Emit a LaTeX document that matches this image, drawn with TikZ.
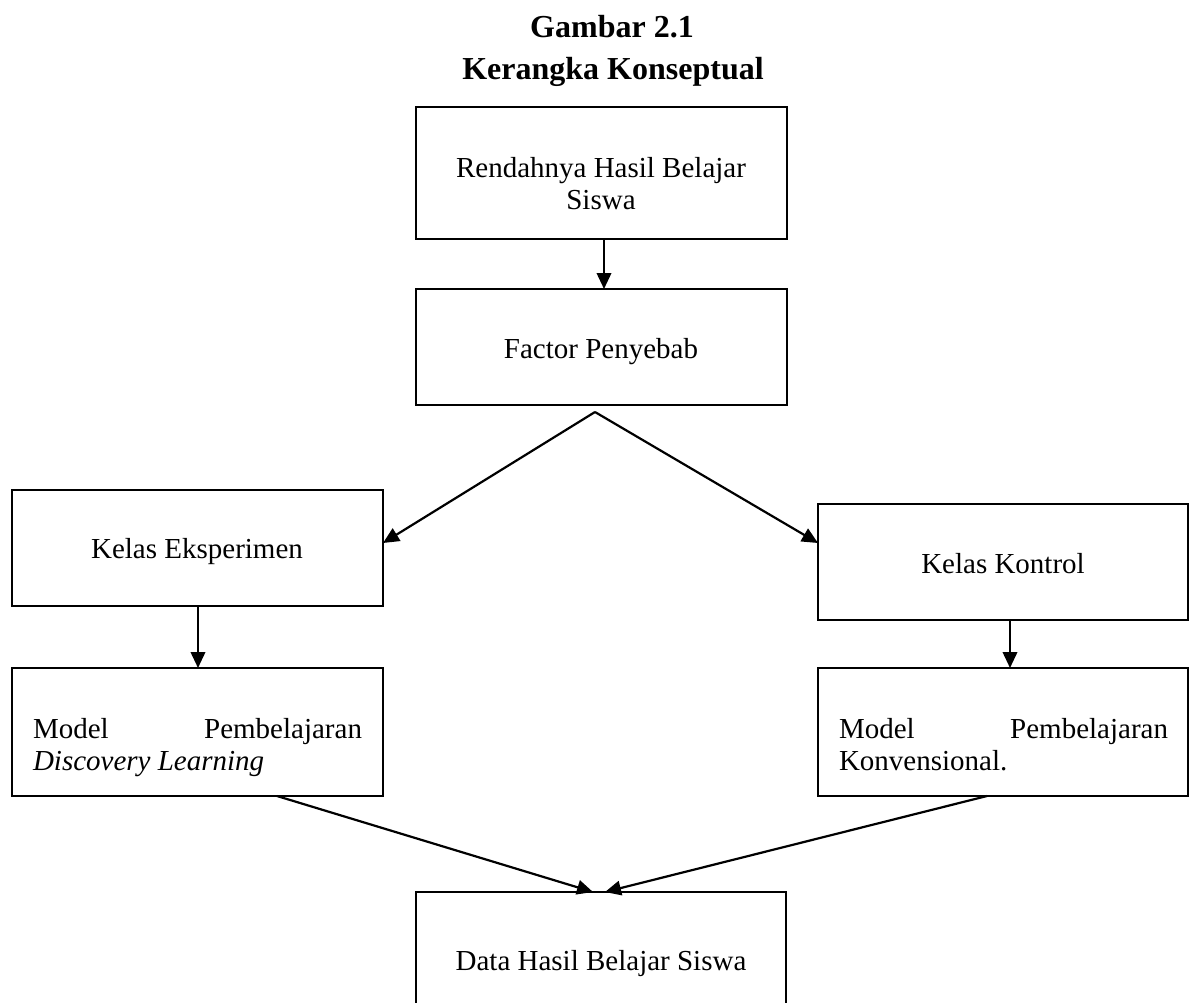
\documentclass[tikz,border=0pt]{standalone}
\usepackage{fontspec}
\setmainfont{Liberation Serif}
\usetikzlibrary{arrows.meta}
\tikzset{
  box/.style={draw, line width=2pt, rectangle, inner sep=0pt, outer sep=0pt},
  arr/.style={line width=2.2pt, -{Triangle[length=16pt,width=14.5pt]}},
  txt/.style={inner sep=0pt, outer sep=0pt, anchor=base, font=\fontsize{29}{33}\selectfont},
  ttl/.style={inner sep=0pt, outer sep=0pt, anchor=base, font=\fontsize{32}{38}\selectfont\bfseries}
}
\begin{document}
\begin{tikzpicture}[x=1pt, y=-1pt]
\useasboundingbox (0,0) rectangle (1189,1002);
\clip (0,0) rectangle (1189,1002);
% title
\node[ttl] (t1) at (612,37) {Gambar 2.1};
\node[ttl] (t2) at (613,79) {Kerangka Konseptual};
% boxes
\node[box, minimum width=371pt, minimum height=132pt] (b1) at (601.5,173) {};
\node[box, minimum width=371pt, minimum height=116pt] (b2) at (601.5,347) {};
\node[box, minimum width=371pt, minimum height=116pt] (b3) at (197.5,548) {};
\node[box, minimum width=370pt, minimum height=116pt] (b4) at (1003,562) {};
\node[box, minimum width=371pt, minimum height=128pt] (b5) at (197.5,732) {};
\node[box, minimum width=370pt, minimum height=128pt] (b6) at (1003,732) {};
\node[box, minimum width=370pt, minimum height=140pt] (b7) at (601,962) {};
% texts
\node[txt] (l1a) at (601,177) {Rendahnya Hasil Belajar};
\node[txt] (l1b) at (601,209) {Siswa};
\node[txt] (l2) at (601,358) {Factor Penyebab};
\node[txt] (l3) at (197,558) {Kelas Eksperimen};
\node[txt] (l4) at (1003,573) {Kelas Kontrol};
\node[txt, anchor=base west] (l5a) at (33,738) {\makebox[329pt][s]{Model\hfill Pembelajaran}};
\node[txt, anchor=base west] (l5b) at (33,770) {\textit{Discovery Learning}};
\node[txt, anchor=base west] (l6a) at (839,738) {\makebox[329pt][s]{Model\hfill Pembelajaran}};
\node[txt, anchor=base west] (l6b) at (839,770) {Konvensional.};
\node[txt] (l7) at (601,970) {Data Hasil Belajar Siswa};
% connectors
\coordinate (apex) at (595,412);
\draw[arr] ([xshift=2.5pt]b1.south) -- ([xshift=2.5pt]b2.north);
\draw[arr] (apex) -- ([yshift=5pt]b3.east);
\draw[arr] (apex) -- ([yshift=19pt]b4.west);
\draw[arr] ([xshift=0.5pt]b3.south) -- ([xshift=0.5pt]b5.north);
\draw[arr] ([xshift=7pt]b4.south) -- ([xshift=7pt]b6.north);
\draw[arr] ([xshift=79.5pt]b5.south) -- ([xshift=-8pt]b7.north);
\draw[arr] ([xshift=-16pt]b6.south) -- ([xshift=4pt]b7.north);
\end{tikzpicture}
\end{document}
